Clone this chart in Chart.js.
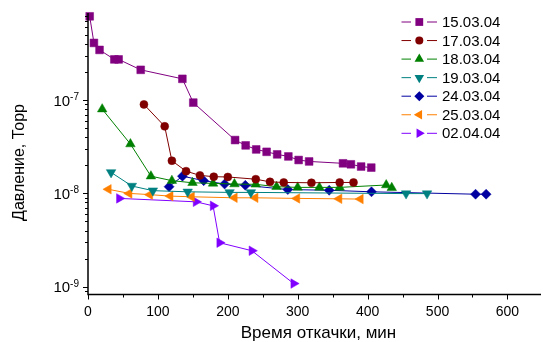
<!DOCTYPE html>
<html lang="ru">
<head>
    <meta charset="UTF-8">
    <title>Давление от времени откачки</title>
    <!-- Chart.js CDN -->
    <script src="https://cdn.jsdelivr.net/npm/chart.js"></script>
    <style>
        body { margin: 0; background: #fff; }
        .chart-container { width: 547px; height: 342px; }
    </style>
</head>
<body>

    <div class="chart-container">
        <canvas id="pumpChart" width="547" height="342"></canvas>
    </div>

    <script>
        // Values: time (min) and pressure (Torr) per run
        const runLabels = ['15.03.04', '17.03.04', '18.03.04', '19.03.04', '24.03.04', '25.03.04', '02.04.04'];

        const t15 = [2.4, 8.5, 16.5, 37.7, 43.8, 75.4, 135, 150.6, 210.4, 225.5, 240.6, 255.5, 270.6, 286.6, 301.3, 316.3, 364.8, 376.1, 390.7, 405.2];
        const p15 = [7.9e-7, 4.1e-7, 3.45e-7, 2.73e-7, 2.73e-7, 2.11e-7, 1.69e-7, 9.4e-8, 3.73e-8, 3.27e-8, 2.96e-8, 2.79e-8, 2.62e-8, 2.49e-8, 2.28e-8, 2.2e-8, 2.1e-8, 2.05e-8, 1.94e-8, 1.89e-8];

        const t17 = [80, 109.7, 120, 140.3, 160.1, 179.9, 200, 240, 260.3, 280, 319.6, 360, 379.8];
        const p17 = [8.99e-8, 5.23e-8, 2.24e-8, 1.73e-8, 1.56e-8, 1.51e-8, 1.5e-8, 1.42e-8, 1.33e-8, 1.31e-8, 1.3e-8, 1.31e-8, 1.31e-8];

        const t18 = [20.3, 60.7, 90, 120, 149.5, 178.9, 209.5, 240, 269.7, 299.9, 331, 360, 426.6, 434.5];
        const p18 = [8.0e-8, 3.38e-8, 1.53e-8, 1.37e-8, 1.3e-8, 1.28e-8, 1.26e-8, 1.25e-8, 1.18e-8, 1.16e-8, 1.16e-8, 1.16e-8, 1.23e-8, 1.15e-8];

        const t19 = [33, 62.7, 92.8, 142.6, 202.5, 233, 455, 485];
        const p19 = [1.68e-8, 1.2e-8, 1.07e-8, 1.04e-8, 1.025e-8, 1.025e-8, 9.95e-9, 9.95e-9];

        const t24 = [116, 135.1, 165.5, 195.4, 225, 285.8, 345, 405.5, 554.4, 569.5];
        const p24 = [1.18e-8, 1.53e-8, 1.37e-8, 1.26e-8, 1.22e-8, 1.1e-8, 1.08e-8, 1.04e-8, 9.8e-9, 9.8e-9];

        const t25 = [29.2, 58.9, 88.5, 117.7, 148.2, 209.5, 239.2, 298.9, 359.2, 389.7];
        const p25 = [1.107e-8, 1.0e-8, 9.7e-9, 9.35e-9, 9.2e-9, 8.97e-9, 8.97e-9, 8.84e-9, 8.75e-9, 8.69e-9];

        const t02 = [44.8, 154.5, 178.9, 188.3, 234.4, 294.2];
        const p02 = [8.84e-9, 8.12e-9, 7.36e-9, 2.96e-9, 2.43e-9, 1.08e-9];

        // Axis ticks
        const xTicks = [0, 100, 200, 300, 400, 500, 600];
        const yDecades = [-9, -8, -7];

        const FONT = '"Liberation Sans", Arial, sans-serif';

        function pairs(t, p) {
            return t.map((x, i) => ({ x: x, y: p[i] }));
        }

        function series(label, t, p, color, style, rotation, radius) {
            return {
                label: label,
                data: pairs(t, p),
                borderColor: color,
                backgroundColor: color,
                borderWidth: 1,
                pointStyle: style,
                pointRotation: rotation,
                pointRadius: radius,
                pointBackgroundColor: color,
                pointBorderColor: color,
                pointBorderWidth: 0.5,
                tension: 0,
                clip: false
            };
        }

        // small marker drawer for the legend
        function drawMarker(ctx, ds, x, y) {
            const r = ds.pointRadius;
            const rad = (ds.pointRotation || 0) * Math.PI / 180;
            ctx.save();
            ctx.fillStyle = ds.pointBackgroundColor;
            ctx.beginPath();
            if (ds.pointStyle === 'rect') {
                const s = r * Math.SQRT1_2;
                ctx.rect(x - s, y - s, 2 * s, 2 * s);
            } else if (ds.pointStyle === 'circle') {
                ctx.arc(x, y, r, 0, Math.PI * 2);
            } else if (ds.pointStyle === 'rectRot') {
                ctx.moveTo(x, y - r); ctx.lineTo(x + r, y); ctx.lineTo(x, y + r); ctx.lineTo(x - r, y);
            } else {
                let a = rad;
                ctx.moveTo(x + Math.sin(a) * r, y - Math.cos(a) * r);
                a += 2 * Math.PI / 3;
                ctx.lineTo(x + Math.sin(a) * r, y - Math.cos(a) * r);
                a += 2 * Math.PI / 3;
                ctx.lineTo(x + Math.sin(a) * r, y - Math.cos(a) * r);
            }
            ctx.closePath();
            ctx.fill();
            ctx.restore();
        }

        // Axes, ticks, titles and legend in the Origin look
        const decorPlugin = {
            id: 'decor',
            afterDraw(chart) {
                const ctx = chart.ctx;
                const area = chart.chartArea;
                const xs = chart.scales.x;
                const ys = chart.scales.y;
                ctx.save();
                ctx.strokeStyle = '#000';
                ctx.fillStyle = '#000';

                // axis lines
                ctx.lineWidth = 1.5;
                ctx.beginPath();
                ctx.moveTo(area.left, area.top - 1);
                ctx.lineTo(area.left, area.bottom);
                ctx.lineTo(area.right, area.bottom);
                ctx.stroke();

                // x ticks
                ctx.lineWidth = 1;
                xTicks.forEach(v => {
                    const px = Math.round(xs.getPixelForValue(v)) + 0.5;
                    ctx.beginPath();
                    ctx.moveTo(px, area.bottom);
                    ctx.lineTo(px, area.bottom + 5);
                    ctx.stroke();
                    const mx = Math.round(xs.getPixelForValue(v + 50)) + 0.5;
                    if (mx < area.right) {
                        ctx.beginPath();
                        ctx.moveTo(mx, area.bottom);
                        ctx.lineTo(mx, area.bottom + 3);
                        ctx.stroke();
                    }
                });
                ctx.font = '14px ' + FONT;
                ctx.textAlign = 'center';
                ctx.textBaseline = 'alphabetic';
                xTicks.forEach(v => {
                    ctx.fillText(String(v), xs.getPixelForValue(v), 316);
                });

                // y ticks (log)
                for (let d = -10; d <= -6; d++) {
                    for (let m = 1; m <= 9; m++) {
                        const val = m * Math.pow(10, d);
                        if (val < ys.min || val > ys.max) continue;
                        const py = Math.round(ys.getPixelForValue(val)) + 0.5;
                        ctx.beginPath();
                        ctx.moveTo(area.left, py);
                        ctx.lineTo(area.left - (m === 1 ? 5 : 3), py);
                        ctx.stroke();
                    }
                }
                yDecades.forEach(d => {
                    const py = ys.getPixelForValue(Math.pow(10, d));
                    const sup = String(d);
                    ctx.font = '10px ' + FONT;
                    const sw = ctx.measureText(sup).width;
                    ctx.textAlign = 'left';
                    ctx.fillText(sup, 79 - sw, py);
                    ctx.font = '15px ' + FONT;
                    ctx.textAlign = 'right';
                    ctx.fillText('10', 79 - sw, py + 5.5);
                });

                // axis titles
                ctx.font = '17px ' + FONT;
                ctx.textAlign = 'center';
                ctx.fillText('Время откачки, мин', 318.5, 338);
                ctx.save();
                ctx.translate(24, 162.5);
                ctx.rotate(-Math.PI / 2);
                ctx.font = '16px ' + FONT;
                ctx.fillText('Давление, Торр', 0, 0);
                ctx.restore();

                // legend
                ctx.font = '15px ' + FONT;
                ctx.textAlign = 'left';
                ctx.textBaseline = 'middle';
                chart.data.datasets.forEach((ds, i) => {
                    const y = 22 + i * 18.55;
                    ctx.strokeStyle = ds.borderColor;
                    ctx.lineWidth = 1;
                    ctx.beginPath();
                    ctx.moveTo(401.5, y); ctx.lineTo(411, y);
                    ctx.moveTo(427, y); ctx.lineTo(437, y);
                    ctx.stroke();
                    drawMarker(ctx, ds, 419.3, y);
                    ctx.fillStyle = '#000';
                    ctx.fillText(ds.label, 442, y + 1);
                });
                ctx.restore();
            }
        };

        const ctx = document.getElementById('pumpChart').getContext('2d');
        const pumpChart = new Chart(ctx, {
            type: 'line',
            data: {
                datasets: [
                    series(runLabels[0], t15, p15, '#800080', 'rect', 0, 5.5),
                    series(runLabels[1], t17, p17, '#800000', 'circle', 0, 4),
                    series(runLabels[2], t18, p18, '#008000', 'triangle', 0, 5.5),
                    series(runLabels[3], t19, p19, '#008080', 'triangle', 180, 5.5),
                    series(runLabels[4], t24, p24, '#0000a0', 'rectRot', 0, 5),
                    series(runLabels[5], t25, p25, '#ff8000', 'triangle', -90, 5.5),
                    series(runLabels[6], t02, p02, '#8000ff', 'triangle', 90, 5.5)
                ]
            },
            options: {
                responsive: false,
                animation: false,
                devicePixelRatio: 1,
                layout: {
                    padding: { left: 88, top: 14, right: 0, bottom: 47.5 }
                },
                plugins: {
                    legend: { display: false },
                    tooltip: { enabled: false }
                },
                scales: {
                    x: {
                        type: 'linear',
                        display: false,
                        min: 0,
                        max: 648
                    },
                    y: {
                        type: 'logarithmic',
                        display: false,
                        min: 8.25e-10,
                        max: 8.37e-7
                    }
                }
            },
            plugins: [decorPlugin]
        });
    </script>

</body>
</html>
